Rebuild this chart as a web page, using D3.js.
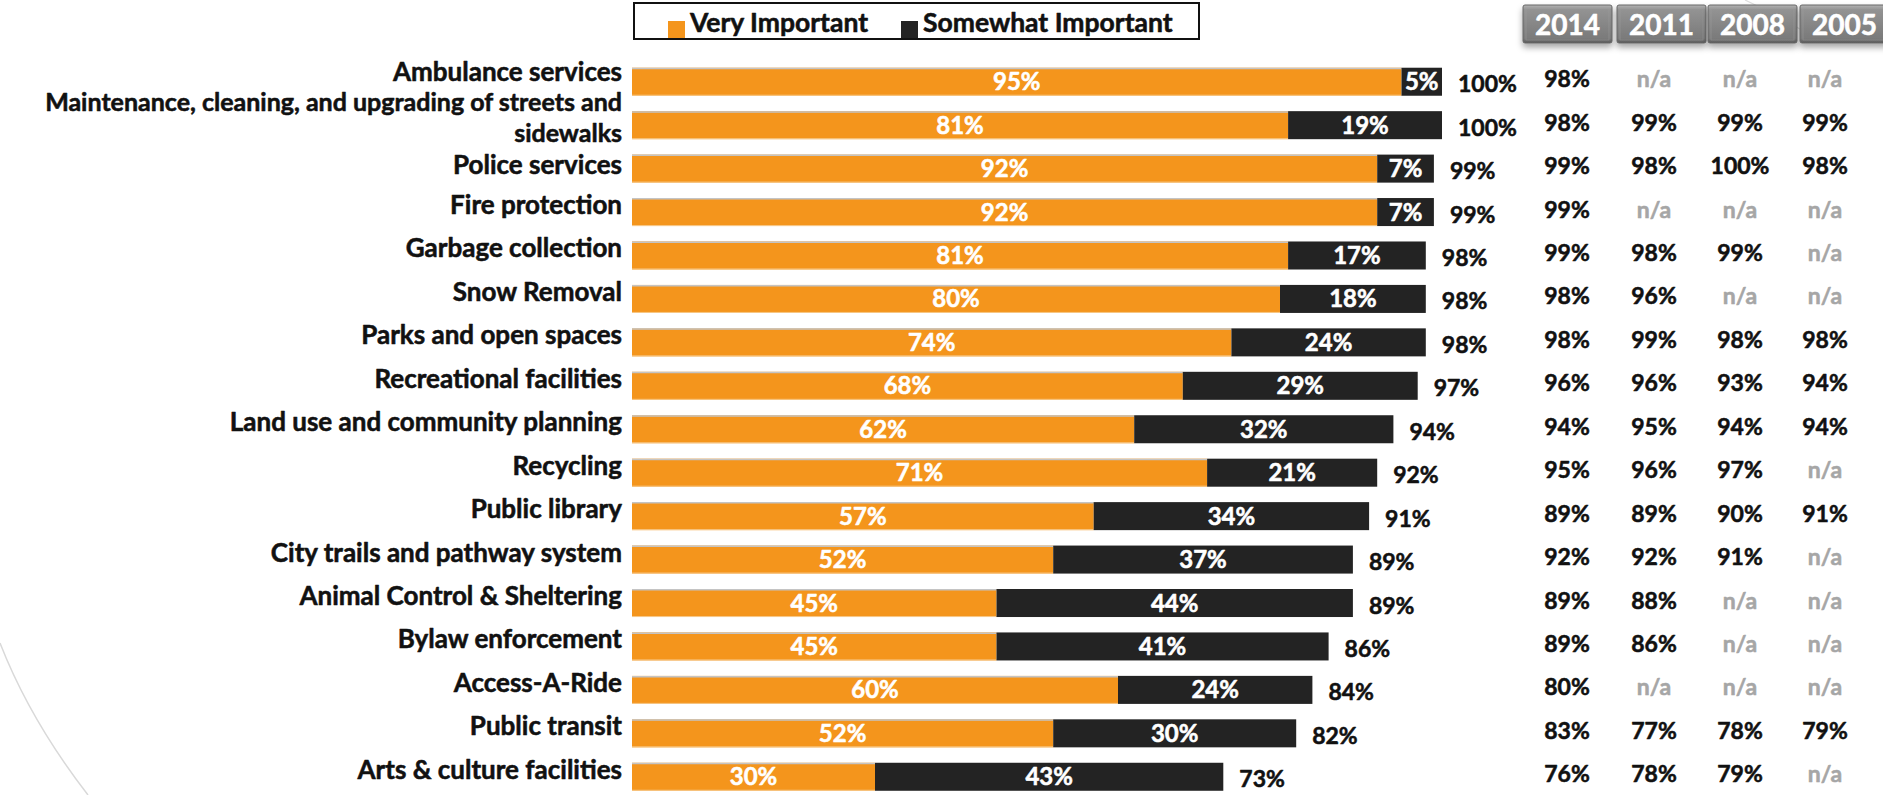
<!DOCTYPE html>
<html>
<head>
<meta charset="utf-8">
<script src="https://cdn.jsdelivr.net/npm/d3@7/dist/d3.min.js"></script>
<style>
  html, body { margin: 0; padding: 0; background: #ffffff; }
  svg { display: block; }
  text { font-family: Lato, "Open Sans", "Noto Sans", sans-serif; font-weight: 700; }
  .heavy { stroke-width: 0.55px; stroke-linejoin: round; }
</style>
</head>
<body>
<svg id="chart" width="1883" height="795"></svg>
<script>
// Importance of city services (share of respondents)
const categories = [
  "Ambulance services",
  "Maintenance, cleaning, and upgrading of streets and sidewalks",
  "Police services",
  "Fire protection",
  "Garbage collection",
  "Snow Removal",
  "Parks and open spaces",
  "Recreational facilities",
  "Land use and community planning",
  "Recycling",
  "Public library",
  "City trails and pathway system",
  "Animal Control & Sheltering",
  "Bylaw enforcement",
  "Access-A-Ride",
  "Public transit",
  "Arts & culture facilities"
];
const veryImportant     = [95, 81, 92, 92, 81, 80, 74, 68, 62, 71, 57, 52, 45, 45, 60, 52, 30];
const somewhatImportant = [ 5, 19,  7,  7, 17, 18, 24, 29, 32, 21, 34, 37, 44, 41, 24, 30, 43];
const totalImportant    = [100, 100, 99, 99, 98, 98, 98, 97, 94, 92, 91, 89, 89, 86, 84, 82, 73];

// Total importance in earlier survey years (null = not asked)
const years = ["2014", "2011", "2008", "2005"];
const total2014 = [98, 98, 99, 99, 99, 98, 98, 96, 94, 95, 89, 92, 89, 89, 80, 83, 76];
const total2011 = [null, 99, 98, null, 98, 96, 99, 96, 95, 96, 89, 92, 88, 86, null, 77, 78];
const total2008 = [null, 99, 100, null, 99, null, 98, 93, 94, 97, 90, 91, null, null, null, 78, 79];
const total2005 = [null, 99, 98, null, null, null, 98, 94, 94, null, 91, null, null, null, null, 79, null];
const yearColumns = [total2014, total2011, total2008, total2005];

const seriesNames = ["Very Important", "Somewhat Important"];
const COLORS = { very: "#F4951C", somewhat: "#232323" };

const svg = d3.select("#chart");
const defs = svg.append("defs");

// decorative background arcs
svg.append("path")
  .attr("d", "M0,643 Q30,720 88,795")
  .attr("fill", "none").attr("stroke", "#d9d9d9").attr("stroke-width", 1.5);
svg.append("path")
  .attr("d", "M1745,0 Q1775,14 1805,32")
  .attr("fill", "none").attr("stroke", "#dedede").attr("stroke-width", 1.2);

// scales
const x = d3.scaleLinear().domain([0, 100]).range([632, 1442]);
const y = d3.scaleBand().domain(categories).range([52.3, 806.2]).paddingInner(0.355).paddingOuter(0.355);
const bh = y.bandwidth();
const rowCenter = c => y(c) + bh / 2;

const rows = categories.map((c, i) => ({
  cat: c,
  very: veryImportant[i],
  somewhat: somewhatImportant[i],
  total: totalImportant[i]
}));

// bars
const barG = svg.append("g");
barG.selectAll("rect.very").data(rows).join("rect")
  .attr("class", "very")
  .attr("x", x(0))
  .attr("y", d => y(d.cat))
  .attr("width", d => x(d.very) - x(0))
  .attr("height", bh)
  .attr("fill", COLORS.very);
barG.selectAll("line.edge").data(rows).join("line")
  .attr("class", "edge")
  .attr("x1", x(0)).attr("x2", d => x(d.very))
  .attr("y1", d => y(d.cat) + 0.75).attr("y2", d => y(d.cat) + 0.75)
  .attr("stroke", "#c4c4c4").attr("stroke-width", 1.5);
barG.selectAll("line.edgeB").data(rows).join("line")
  .attr("class", "edgeB")
  .attr("x1", x(0)).attr("x2", d => x(d.very))
  .attr("y1", d => y(d.cat) + bh - 0.5).attr("y2", d => y(d.cat) + bh - 0.5)
  .attr("stroke", "#f7c98a").attr("stroke-width", 1);
barG.selectAll("rect.some").data(rows).join("rect")
  .attr("class", "some")
  .attr("x", d => x(d.very))
  .attr("y", d => y(d.cat))
  .attr("width", d => x(d.very + d.somewhat) - x(d.very))
  .attr("height", bh)
  .attr("fill", COLORS.somewhat);

// value labels inside segments
const labG = svg.append("g").attr("class", "heavy").attr("font-size", 24)
  .attr("fill", "#ffffff").attr("stroke", "#ffffff").attr("text-anchor", "middle");
labG.selectAll("text.v").data(rows).join("text")
  .attr("x", d => (x(0) + x(d.very)) / 2)
  .attr("y", d => rowCenter(d.cat) + 8.5)
  .text(d => d.very + "%");
labG.selectAll("text.s").data(rows).join("text")
  .attr("x", d => (x(d.very) + x(d.very + d.somewhat)) / 2)
  .attr("y", d => rowCenter(d.cat) + 8.5)
  .text(d => d.somewhat + "%");

// totals at bar ends
svg.append("g").attr("class", "heavy").attr("font-size", 23).attr("fill", "#111").attr("stroke", "#111")
  .selectAll("text").data(rows).join("text")
  .attr("x", d => x(d.very + d.somewhat) + 16)
  .attr("y", d => rowCenter(d.cat) + 10.5)
  .text(d => d.total + "%");

// category labels, wrapped to fit left of the bars
const labelRight = 622;
const labelSize = 26, wrappedSize = 25;
const catG = svg.append("g").attr("class", "heavy")
  .attr("fill", "#111").attr("stroke", "#111").attr("text-anchor", "end");

function wrapWords(text, size, maxW) {
  const probe = catG.append("text").attr("font-size", size);
  const lines = [];
  let cur = [];
  text.split(" ").forEach(w => {
    probe.text(cur.concat(w).join(" "));
    if (probe.node().getComputedTextLength() > maxW && cur.length) {
      lines.push(cur.join(" "));
      cur = [w];
    } else cur.push(w);
  });
  lines.push(cur.join(" "));
  probe.remove();
  return lines;
}

const wrapped = rows.map(d => wrapWords(d.cat, labelSize, labelRight - 4));
rows.forEach((d, i) => {
  const c = rowCenter(d.cat);
  const lines = wrapped[i];
  if (lines.length === 1) {
    // leave a little more room beside a two-line neighbour
    let base = c + 2;
    if (wrapped[i + 1] && wrapped[i + 1].length > 1) base -= 3;
    if (wrapped[i - 1] && wrapped[i - 1].length > 1) base += 3;
    catG.append("text").attr("font-size", labelSize)
      .attr("x", labelRight).attr("y", base).text(lines[0]);
  } else {
    const two = wrapWords(d.cat, wrappedSize, labelRight - 4);
    two.forEach((ln, k) => {
      catG.append("text").attr("font-size", wrappedSize)
        .attr("x", labelRight).attr("y", c - 13.7 + k * 30.2).text(ln);
    });
  }
});

// legend
const legend = svg.append("g");
legend.append("rect").attr("x", 634).attr("y", 3).attr("width", 565).attr("height", 36)
  .attr("fill", "#fff").attr("stroke", "#111").attr("stroke-width", 2);
const legItems = [
  { name: seriesNames[0], color: COLORS.very, sx: 668, tx: 690 },
  { name: seriesNames[1], color: COLORS.somewhat, sx: 901, tx: 923 }
];
legend.selectAll("rect.sw").data(legItems).join("rect")
  .attr("class", "sw")
  .attr("x", d => d.sx).attr("y", 21).attr("width", 17).attr("height", 17)
  .attr("fill", d => d.color);
legend.selectAll("text").data(legItems).join("text")
  .attr("class", "heavy")
  .attr("x", d => d.tx).attr("y", 32)
  .attr("font-size", 26.5).attr("fill", "#111").attr("stroke", "#111")
  .text(d => d.name);

// year header tiles
const grad = defs.append("linearGradient").attr("id", "tileGrad")
  .attr("x1", 0).attr("y1", 0).attr("x2", 0).attr("y2", 1);
[["0%", "#b4b4b4"], ["12%", "#939393"], ["55%", "#858585"], ["88%", "#7a7a7a"], ["100%", "#5a5a5a"]]
  .forEach(([o, c]) => grad.append("stop").attr("offset", o).attr("stop-color", c));
const shadow = defs.append("filter").attr("id", "tileShadow")
  .attr("x", "-10%").attr("y", "-20%").attr("width", "130%").attr("height", "160%");
shadow.append("feDropShadow").attr("dx", 0).attr("dy", 4).attr("stdDeviation", 3)
  .attr("flood-color", "#000").attr("flood-opacity", 0.35);

const colCenters = [1567, 1654, 1740, 1825];
const tileX = [1523, 1617, 1708, 1800];
const tileW = 89;
const tiles = svg.append("g");
years.forEach((yr, j) => {
  const g = tiles.append("g");
  g.append("rect").attr("x", tileX[j]).attr("y", 5).attr("width", tileW).attr("height", 38)
    .attr("rx", 2).attr("fill", "url(#tileGrad)").attr("stroke", "#676767").attr("stroke-width", 1)
    .attr("filter", "url(#tileShadow)");
  g.append("rect").attr("x", tileX[j] + 3).attr("y", 8).attr("width", tileW - 6).attr("height", 32)
    .attr("fill", "none").attr("stroke", "#a0a0a0").attr("stroke-width", 0.8).attr("opacity", 0.6);
  g.append("text").attr("class", "heavy").attr("x", tileX[j] + tileW / 2).attr("y", 35)
    .attr("text-anchor", "middle").attr("font-size", 28).attr("fill", "#ffffff").attr("stroke", "#ffffff")
    .text(yr);
});

// year columns
yearColumns.forEach((col, j) => {
  svg.append("g").attr("class", "heavy").attr("font-size", 23).attr("text-anchor", "middle")
    .selectAll("text").data(categories).join("text")
    .attr("x", colCenters[j])
    .attr("y", c => rowCenter(c) + 5.5)
    .attr("fill", (c, i) => col[i] == null ? "#a6a6a6" : "#111")
    .attr("stroke", (c, i) => col[i] == null ? "#a6a6a6" : "#111")
    .text((c, i) => col[i] == null ? "n/a" : col[i] + "%");
});
</script>
</body>
</html>
